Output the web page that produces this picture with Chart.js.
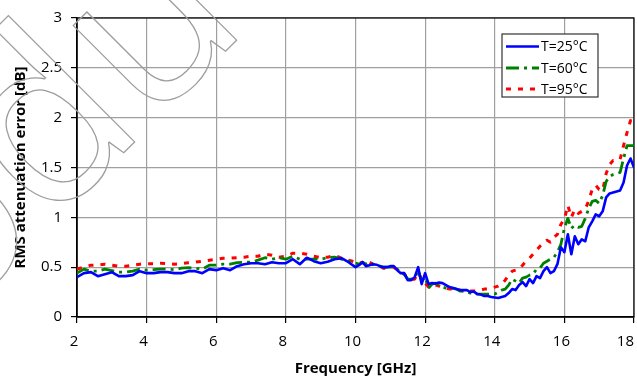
<!DOCTYPE html>
<html>
<head>
<meta charset="utf-8">
<script src="https://cdn.jsdelivr.net/npm/chart.js@4.4.0/dist/chart.umd.min.js"></script>
<style>
    body { margin: 0; background: #fff; }
    #area { width: 637px; height: 381px; }
</style>
</head>
<body>
<div id="area"><canvas id="graficoErro"></canvas></div>
<script>
// 1. DADOS (frequência em GHz, erro RMS em dB)
const freqBaixa = [2.0, 2.2, 2.4, 2.6, 2.8, 3.0, 3.2, 3.4, 3.6, 3.8,
    4.0, 4.2, 4.4, 4.6, 4.8, 5.0, 5.2, 5.4, 5.6, 5.8,
    6.0, 6.2, 6.4, 6.6, 6.8, 7.0, 7.2, 7.4, 7.6, 7.8,
    8.0, 8.2, 8.4, 8.6, 8.8, 9.0, 9.2, 9.4, 9.6, 9.8, 10.0];
const freqAlta = [10.1, 10.2, 10.3, 10.4, 10.5, 10.6, 10.7, 10.8, 10.9, 11.0,
    11.1, 11.2, 11.3, 11.4, 11.5, 11.6, 11.7, 11.8, 11.9, 12.0,
    12.1, 12.2, 12.3, 12.4, 12.5, 12.6, 12.7, 12.8, 12.9, 13.0,
    13.1, 13.2, 13.3, 13.4, 13.5, 13.6, 13.7, 13.8, 13.9, 14.0,
    14.1, 14.2, 14.3, 14.4, 14.5, 14.6, 14.7, 14.8, 14.9, 15.0,
    15.1, 15.2, 15.3, 15.4, 15.5, 15.6, 15.7, 15.8, 15.9, 16.0,
    16.1, 16.2, 16.3, 16.4, 16.5, 16.6, 16.7, 16.8, 16.9, 17.0,
    17.1, 17.2, 17.3, 17.4, 17.5, 17.6, 17.7, 17.8, 17.9, 18.0];
const frequencias = freqBaixa.concat(freqAlta);

const erroT25 = [
    0.40, 0.44, 0.45, 0.41, 0.43, 0.45, 0.41, 0.41, 0.42, 0.46,
    0.44, 0.44, 0.45, 0.45, 0.44, 0.44, 0.46, 0.46, 0.44, 0.48,
    0.47, 0.49, 0.47, 0.51, 0.53, 0.54, 0.54, 0.53, 0.55, 0.54,
    0.54, 0.58, 0.53, 0.595, 0.56, 0.54, 0.555, 0.58, 0.59, 0.55, 0.50,
    0.52, 0.55, 0.51, 0.52, 0.53, 0.525, 0.51, 0.50, 0.50, 0.51,
    0.51, 0.47, 0.44, 0.44, 0.37, 0.37, 0.40, 0.50, 0.33, 0.44,
    0.33, 0.34, 0.335, 0.345, 0.34, 0.32, 0.30, 0.29, 0.28, 0.27,
    0.27, 0.27, 0.25, 0.255, 0.23, 0.225, 0.21, 0.21, 0.20, 0.195,
    0.19, 0.20, 0.21, 0.24, 0.28, 0.27, 0.32, 0.35, 0.31, 0.38,
    0.34, 0.41, 0.39, 0.46, 0.50, 0.44, 0.46, 0.53, 0.70, 0.65,
    0.83, 0.63, 0.81, 0.73, 0.78, 0.76, 0.90, 0.96, 1.03, 1.01,
    1.06, 1.20, 1.24, 1.25, 1.26, 1.27, 1.35, 1.52, 1.59, 1.50];

const erroT60 = [
    0.44, 0.48, 0.46, 0.46, 0.48, 0.465, 0.45, 0.45, 0.46, 0.48,
    0.47, 0.475, 0.48, 0.48, 0.475, 0.49, 0.495, 0.49, 0.48, 0.52,
    0.52, 0.53, 0.53, 0.545, 0.55, 0.55, 0.57, 0.595, 0.58, 0.595,
    0.58, 0.61, 0.58, 0.58, 0.58, 0.58, 0.595, 0.60, 0.58, 0.56, 0.54,
    0.53, 0.55, 0.53, 0.55, 0.53, 0.52, 0.51, 0.50, 0.50, 0.50,
    0.50, 0.48, 0.44, 0.43, 0.38, 0.38, 0.39, 0.47, 0.36, 0.40,
    0.29, 0.33, 0.34, 0.32, 0.30, 0.29, 0.28, 0.29, 0.28, 0.26,
    0.26, 0.25, 0.24, 0.24, 0.23, 0.23, 0.23, 0.23, 0.23, 0.23,
    0.25, 0.27, 0.28, 0.32, 0.38, 0.36, 0.34, 0.39, 0.40, 0.42,
    0.43, 0.48, 0.49, 0.54, 0.56, 0.58, 0.60, 0.65, 0.73, 0.89,
    0.99, 0.89, 0.92, 0.90, 0.91, 0.99, 1.09, 1.16, 1.17, 1.14,
    1.22, 1.36, 1.41, 1.43, 1.44, 1.45, 1.59, 1.72, 1.72, 1.72];

const erroT95 = [
    0.48, 0.50, 0.52, 0.52, 0.53, 0.52, 0.51, 0.51, 0.52, 0.53,
    0.535, 0.535, 0.54, 0.535, 0.53, 0.535, 0.545, 0.55, 0.56, 0.57,
    0.58, 0.59, 0.59, 0.595, 0.60, 0.61, 0.61, 0.63, 0.62, 0.60,
    0.61, 0.64, 0.64, 0.63, 0.61, 0.595, 0.60, 0.62, 0.59, 0.57, 0.55,
    0.54, 0.55, 0.52, 0.55, 0.53, 0.52, 0.51, 0.49, 0.49, 0.50,
    0.50, 0.47, 0.45, 0.43, 0.39, 0.38, 0.38, 0.45, 0.38, 0.34,
    0.30, 0.32, 0.32, 0.31, 0.30, 0.29, 0.28, 0.28, 0.27, 0.27,
    0.26, 0.25, 0.26, 0.26, 0.26, 0.27, 0.28, 0.28, 0.29, 0.30,
    0.31, 0.33, 0.37, 0.42, 0.46, 0.47, 0.48, 0.52, 0.56, 0.59,
    0.63, 0.67, 0.71, 0.74, 0.77, 0.75, 0.80, 0.83, 0.93, 0.98,
    1.12, 1.00, 1.08, 1.04, 1.06, 1.08, 1.17, 1.28, 1.32, 1.28,
    1.27, 1.44, 1.53, 1.57, 1.57, 1.58, 1.72, 1.85, 1.97, 1.95];

const rotulosSeries = ['T=25°C', 'T=60°C', 'T=95°C'];
const ticksFrequencia = [2, 4, 6, 8, 10, 12, 14, 16, 18];

const FONTE = "'Open Sans', sans-serif";

// Junta frequência e valor em pontos {x, y}
function montarPontos(valores) {
    return valores.map((v, i) => ({ x: frequencias[i], y: v }));
}

// Estilo das três curvas (também usado na legenda)
const estilos = [
    { cor: '#0000ff', largura: 2.6, tracejado: [] },
    { cor: '#008000', largura: 2.8, tracejado: [13, 5, 3, 5] },
    { cor: '#ff0000', largura: 3, tracejado: [5, 7] }
];

// 2. PLUGIN: fundo, moldura, rótulos do eixo X, títulos, legenda e marca d'água
const pluginDecoracao = {
    id: 'decoracao',
    beforeDraw(chart) {
        const ctx = chart.ctx;
        ctx.save();
        ctx.fillStyle = '#fff';
        ctx.fillRect(0, 0, chart.width, chart.height);
        ctx.restore();
    },
    beforeDatasetsDraw(chart) {
        const { ctx, chartArea: a } = chart;
        ctx.save();
        ctx.strokeStyle = '#000';
        ctx.lineWidth = 1.2;
        ctx.strokeRect(a.left, a.top, a.right - a.left, a.bottom - a.top);
        ctx.restore();
    },
    afterDraw(chart) {
        const { ctx, chartArea: a } = chart;
        const eixoX = chart.scales.x;
        ctx.save();

        // --- Rótulos do eixo X (o último é puxado para dentro da tela) ---
        ctx.fillStyle = '#000';
        ctx.font = '15px ' + FONTE;
        ctx.textAlign = 'center';
        ctx.textBaseline = 'middle';
        ticksFrequencia.forEach(f => {
            const texto = String(f);
            const w = ctx.measureText(texto).width;
            let x = eixoX.getPixelForValue(f) - 3;
            if (x + w / 2 > a.right) x = a.right - w / 2;
            ctx.fillText(texto, x, 342);
        });

        // --- Títulos dos eixos ---
        ctx.font = 'bold 15px ' + FONTE;
        ctx.fillText('Frequency [GHz]', (a.left + a.right) / 2, 369);
        ctx.save();
        ctx.translate(21, (a.top + a.bottom) / 2);
        ctx.rotate(-Math.PI / 2);
        ctx.fillText('RMS attenuation error [dB]', 0, 0);
        ctx.restore();

        // --- Legenda ---
        ctx.fillStyle = '#fff';
        ctx.fillRect(502, 34, 96, 63);
        ctx.strokeStyle = '#333';
        ctx.lineWidth = 1.2;
        ctx.strokeRect(502, 34, 96, 63);
        const linhas = [46.5, 68, 89];
        ctx.font = '14px ' + FONTE;
        ctx.textAlign = 'left';
        rotulosSeries.forEach((rotulo, i) => {
            const e = estilos[i];
            ctx.beginPath();
            ctx.setLineDash(e.tracejado);
            ctx.strokeStyle = e.cor;
            ctx.lineWidth = e.largura;
            ctx.moveTo(506, linhas[i]);
            ctx.lineTo(539, linhas[i]);
            ctx.stroke();
            ctx.setLineDash([]);
            ctx.fillStyle = '#000';
            ctx.fillText(rotulo, 541, linhas[i] + 1);
        });

        // --- Marca d'água em contorno, inclinada ---
        ctx.font = '235px ' + FONTE;
        ctx.strokeStyle = '#9e9e9e';
        ctx.lineWidth = 1.3;
        ctx.translate(0, 182);
        ctx.rotate(-Math.PI / 4);
        const recuo = ctx.measureText('Pro').width;
        ctx.strokeText('Product', -recuo, 0);

        ctx.restore();
    }
};

// 3. GRÁFICO
function desenharGrafico() {
    const ctx = document.getElementById('graficoErro').getContext('2d');
    const series = [erroT25, erroT60, erroT95];

    new Chart(ctx, {
        type: 'line',
        data: {
            datasets: series.map((valores, i) => ({
                label: rotulosSeries[i],
                data: montarPontos(valores),
                borderColor: estilos[i].cor,
                borderWidth: estilos[i].largura,
                borderDash: estilos[i].tracejado,
                borderJoinStyle: 'round',
                pointRadius: 0,
                fill: false,
                tension: 0
            }))
        },
        options: {
            responsive: true,
            maintainAspectRatio: false,
            animation: false,
            layout: { padding: { top: 14, right: 3, left: 0, bottom: 0 } },
            plugins: {
                legend: { display: false },
                tooltip: { enabled: false }
            },
            scales: {
                x: {
                    type: 'linear',
                    min: 2,
                    max: 18,
                    ticks: { stepSize: 2, display: false },
                    grid: { color: '#a0a0a0', lineWidth: 1.2, tickColor: '#000', tickLength: 6 },
                    border: { color: '#000', width: 1.5 },
                    afterFit: escala => { escala.height = 64; }
                },
                y: {
                    min: 0,
                    max: 3,
                    ticks: {
                        stepSize: 0.5,
                        padding: 9,
                        color: '#000',
                        font: { family: FONTE, size: 15 },
                        // Mostra 0, 0.5, 1 ... sem casas decimais fixas
                        callback: valor => String(valor)
                    },
                    grid: { color: '#a0a0a0', lineWidth: 1.2, tickColor: '#000', tickLength: 6 },
                    border: { color: '#000', width: 1.5 },
                    afterFit: escala => { escala.width = 77; }
                }
            }
        },
        plugins: [pluginDecoracao]
    });
}

window.onload = desenharGrafico;
</script>
</body>
</html>
